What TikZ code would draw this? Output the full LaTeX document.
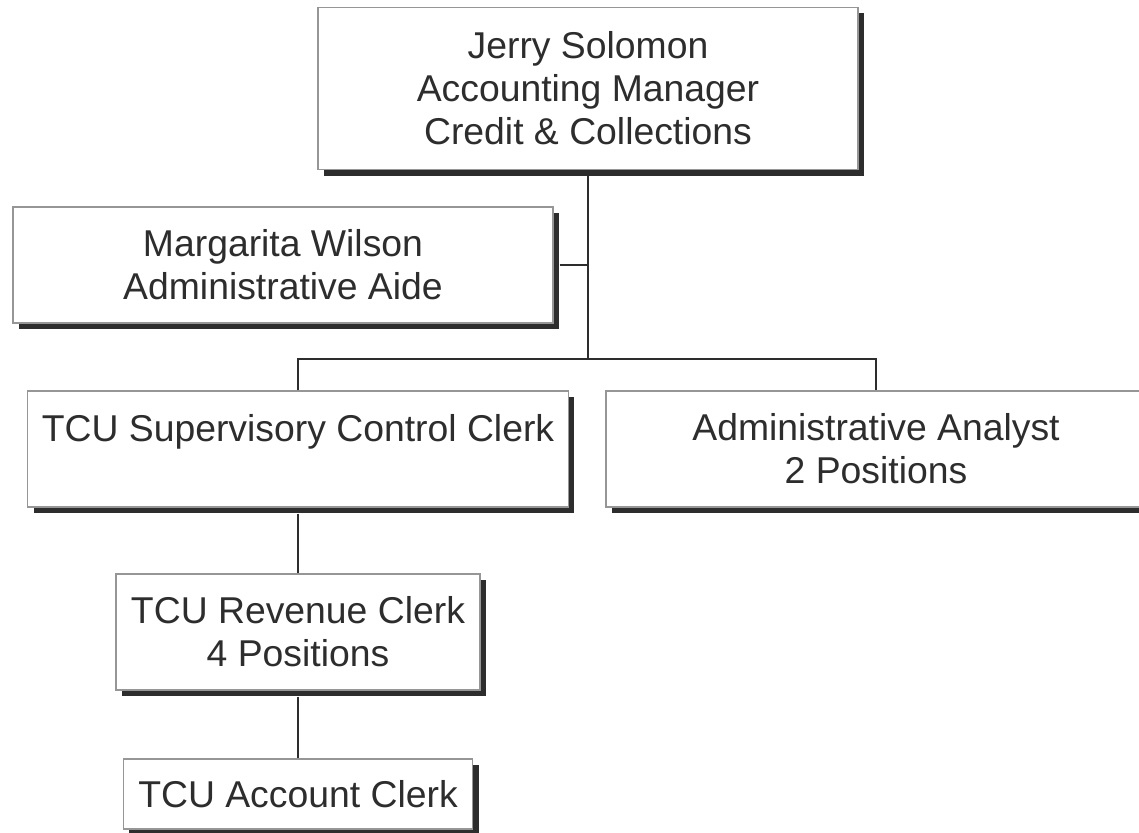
\documentclass[tikz,border=0pt]{standalone}
\usepackage{fontspec}
\setmainfont{Liberation Sans}
\usetikzlibrary{shadows}
\definecolor{boxgray}{RGB}{150,150,150}
\definecolor{inkgray}{RGB}{45,45,45}

\begin{document}
\begin{tikzpicture}[x=0.75pt,y=-0.75pt,
    orgbox/.style={draw=boxgray,line width=0.9pt,fill=white,text=inkgray,
        inner sep=0pt,align=center,
        font=\fontsize{28}{32.3}\selectfont,
        drop shadow={shadow xshift=4.5pt,shadow yshift=-4.5pt,
                     fill=inkgray,opacity=1}},
    orgline/.style={draw=inkgray,line width=1.9pt}]
  \useasboundingbox[fill=white] (0,0) rectangle (1139,832);

  %% Manager and aide
  \node[orgbox,minimum width=405pt,minimum height=122pt]
        (jerry) at (588,88.5)
        {Jerry Solomon\\Accounting Manager\\Credit \& Collections};
  \node[orgbox,minimum width=405pt,minimum height=87pt]
        (margarita) at (283,265)
        {Margarita Wilson\\Administrative Aide};

  %% Second level
  \node[orgbox,minimum width=405.5pt,minimum height=87pt]
        (supclerk) at (298,449)
        {TCU Supervisory Control Clerk\\\mbox{}};
  \node[orgbox,minimum width=405pt,minimum height=87pt]
        (analyst) at (876,449)
        {Administrative Analyst\\2 Positions};

  %% Clerks
  \node[orgbox,minimum width=273pt,minimum height=87pt]
        (revclerk) at (298,632)
        {TCU Revenue Clerk\\4 Positions};
  \node[orgbox,minimum width=262pt,minimum height=52.5pt]
        (acctclerk) at (298,794)
        {TCU Account Clerk};

  %% Connectors
  \coordinate (junction) at (588,359);
  \draw[orgline] (jerry.south) -- (junction);
  \draw[orgline] ([xshift=4.5pt]margarita.east) -- (margarita.east -| jerry.south);
  \draw[orgline] (supclerk.north) |- (junction) -| (analyst.north);
  \draw[orgline] ([yshift=-4.5pt]supclerk.south) -- (revclerk.north);
  \draw[orgline] ([yshift=-4.5pt]revclerk.south) -- (acctclerk.north);
\end{tikzpicture}
\end{document}
